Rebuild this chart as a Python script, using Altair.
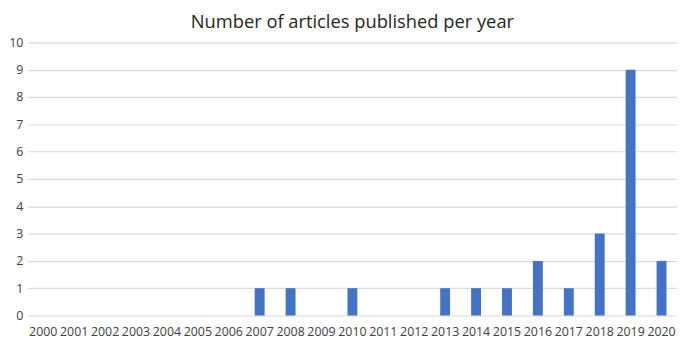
import altair as alt
import pandas as pd

years = [str(y) for y in range(2000, 2021)]
counts = [0, 0, 0, 0, 0, 0, 0, 1, 1, 0, 1, 0, 0, 1, 1, 1, 2, 1, 3, 9, 2]

df = pd.DataFrame({"year": years, "count": counts})

chart = alt.Chart(df).mark_bar(color="#4472C4", width=10).encode(
    x=alt.X("year:N", sort=years, title=None,
            axis=alt.Axis(labelAngle=0, ticks=False, domain=False, labelPadding=10,
                          labelFont="Open Sans", labelFontSize=12.5, labelColor="#404040")),
    y=alt.Y("count:Q", title=None, scale=alt.Scale(domain=[0, 10], nice=False),
            axis=alt.Axis(values=list(range(0, 11)), ticks=False, domain=False,
                          gridColor="#D9D9D9", gridWidth=1.2, labelPadding=5,
                          labelFont="Open Sans", labelFontSize=12.5, labelColor="#404040")),
).properties(
    width=656, height=276,
    title=alt.TitleParams("Number of articles published per year", font="Open Sans",
                          fontSize=18.5, fontWeight="normal", color="#262626", offset=5),
    padding={"left": 0, "top": 3, "right": 0, "bottom": 0},
).configure_view(stroke=None).configure_scale(bandPaddingInner=0, bandPaddingOuter=0)

chart.save("out.html", embed_options={"renderer": "svg", "actions": False})
